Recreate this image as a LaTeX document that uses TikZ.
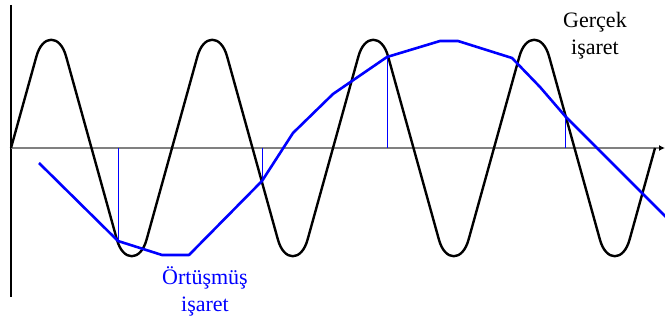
\documentclass[tikz,border=0pt]{standalone}
\usepackage{fontspec}
\setmainfont{Liberation Serif}
\newfontfamily\lblfont{Liberation Serif}
\usetikzlibrary{arrows.meta}

\begin{document}
\begin{tikzpicture}[x=1pt, y=-1pt,
    wave/.style={line width=2.4pt, black, line join=round},
    aliased/.style={line width=2.6pt, blue, line join=round},
    sample/.style={line width=1pt, blue},
    lbl/.style={font=\lblfont\fontsize{22}{27}\selectfont, align=center, inner sep=0pt, anchor=north}]
    \useasboundingbox (0,0) rectangle (665,320);

    % Axes
    \draw[line width=1.2pt] (11,5) -- (11,297);
    \draw[line width=2pt, gray, -{Latex[black, length=6pt, width=6pt]}] (11,148) -- (665,148);

    % Real signal
    \draw[wave] (11,148)
        \foreach \k [evaluate=\k as \xs using 11+161*\k] in {0,...,3}{
            -- (\xs+25.25,57) .. controls (\xs+31.25,34) and (\xs+49.25,34) .. (\xs+55.25,57)
            -- (\xs+105.75,239) .. controls (\xs+111.75,262) and (\xs+129.75,262) .. (\xs+135.75,239)
            -- (\xs+161,148)
        };

    % Samples
    \draw[sample] (118,148) -- (118,241);
    \draw[sample] (262,148) -- (262,181);
    \draw[sample] (387,148) -- (387,57);
    \draw[sample] (565,148) -- (565,116);

    % Aliased signal
    \draw[aliased] (39,163) -- (118,241) -- (162,255) -- (189,255) -- (262,181)
        -- (293,133) -- (333,94) -- (387,57) -- (440,41) -- (458,41)
        -- (512,58) -- (540,87) -- (565,116) -- (667,218);

    % Labels
    \node[lbl] (gercek) at (595,12) {Gerçek\\işaret};
    \node[lbl, blue] (ortusmus) at (205,266) {Örtüşmüş\\işaret};
\end{tikzpicture}
\end{document}
